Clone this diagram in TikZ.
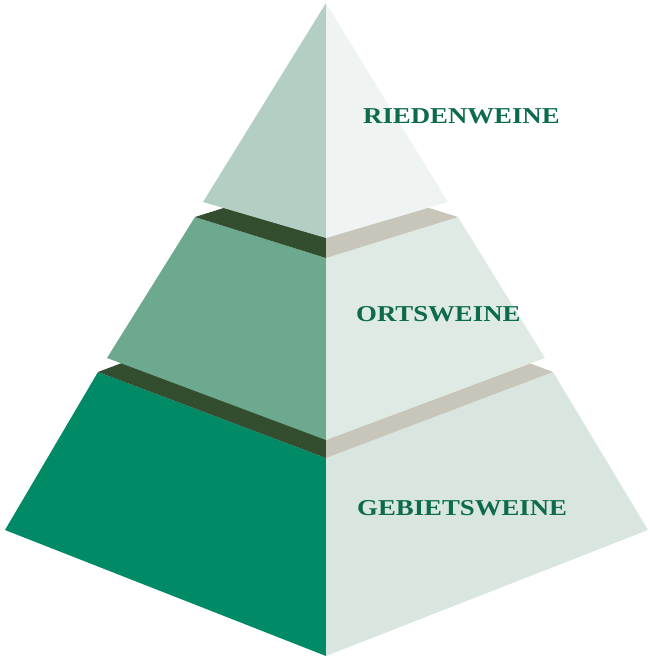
\documentclass[tikz,border=0pt]{standalone}
\usepackage{fontspec}
\setmainfont{Liberation Serif}
\definecolor{topL}{HTML}{B3CFC3}
\definecolor{topR}{HTML}{EFF4F2}
\definecolor{midL}{HTML}{6CA98F}
\definecolor{midR}{HTML}{E0EAE5}
\definecolor{botL}{HTML}{008A66}
\definecolor{botR}{HTML}{D8E6DF}
\definecolor{bandD}{HTML}{334D2F}
\definecolor{bandL}{HTML}{C8C5BB}
\definecolor{txt}{HTML}{0B6B4A}
\tikzset{
  lbl/.style={anchor=base west, inner sep=0pt, text=txt,
    font=\fontsize{22.7}{26}\selectfont\bfseries}
}
\begin{document}
\begin{tikzpicture}[x=1pt,y=-1pt]
\useasboundingbox (0,0) rectangle (650,662);
% bottom tier
\fill[botL] (98,372) -- (326,458) -- (326,656) -- (5,530) -- cycle;
\fill[botR] (326,458) -- (553,372) -- (648,530) -- (326,656) -- cycle;
% top face of bottom tier
\fill[bandD] (98,372) -- (326,286) -- (326,458) -- cycle;
\fill[bandL] (326,286) -- (553,372) -- (326,458) -- cycle;
% middle tier
\fill[midL] (107,358) -- (195,217) -- (326,258) -- (326,440) -- cycle;
\fill[midR] (326,258) -- (458,217) -- (545,358) -- (326,440) -- cycle;
% top face of middle tier
\fill[bandD] (195,217) -- (326,176) -- (326,258) -- cycle;
\fill[bandL] (326,176) -- (458,217) -- (326,258) -- cycle;
% top tier
\fill[topL] (326,3) -- (203,202) -- (326,238) -- cycle;
\fill[topR] (326,3) -- (326,238) -- (448,202) -- cycle;
% labels
\node[lbl] (ried) at (363,123) {\scalebox{1.18}[1]{RIEDENWEINE}};
\node[lbl] (orts) at (356,321) {\scalebox{1.18}[1]{ORTSWEINE}};
\node[lbl] (gebi) at (357,515) {\scalebox{1.18}[1]{GEBIETSWEINE}};
\end{tikzpicture}
\end{document}
